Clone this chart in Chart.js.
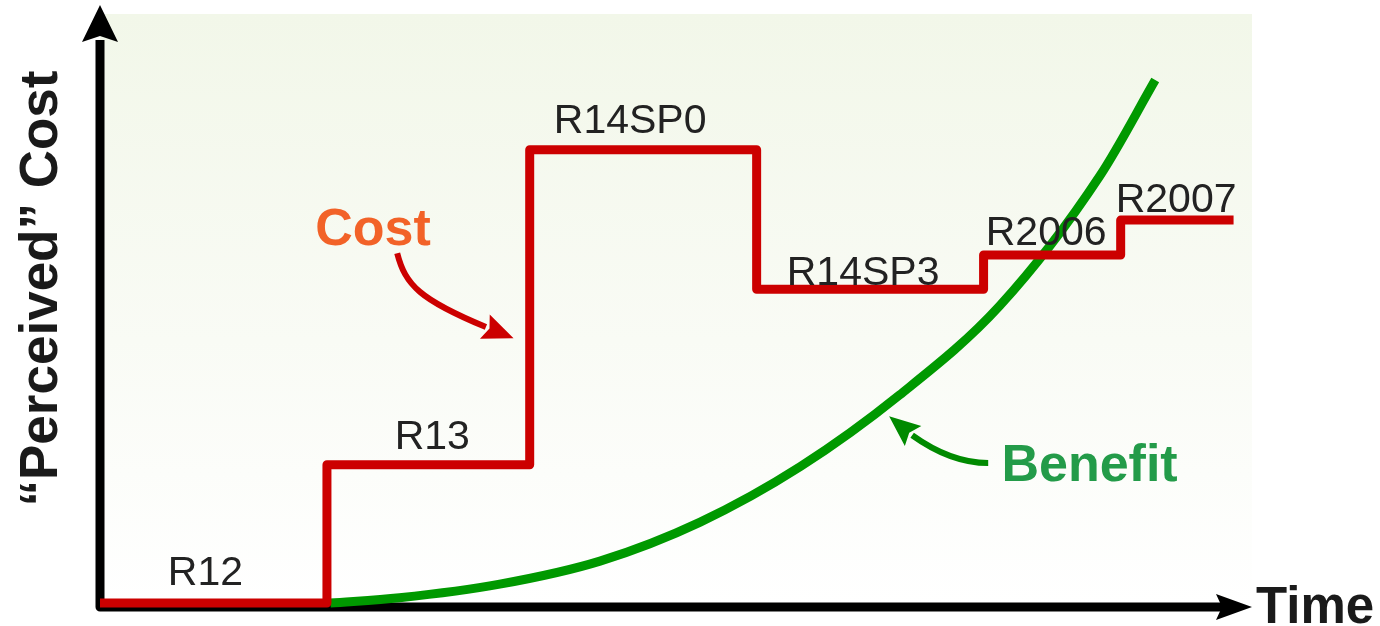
<!DOCTYPE html>
<html>
<head>
<meta charset="utf-8">
<script src="https://cdn.jsdelivr.net/npm/chart.js@4/dist/chart.umd.min.js"></script>
<style>
  html, body { margin: 0; padding: 0; background: #ffffff; overflow: hidden; }
  canvas { display: block; }
</style>
</head>
<body>
<canvas id="chart" width="1380" height="626"></canvas>
<script>
// Releases and the perceived cost of moving to each one (time runs 0..100)
const releases = ['R12', 'R13', 'R14SP0', 'R14SP3', 'R2006', 'R2007'];
const releaseStart = [0, 19.7, 37.3, 57.0, 76.7, 88.6];
const lastReleaseEnd = 98.4;
const perceivedCost = [0.5, 23.9, 77.2, 53.6, 59.4, 65.3];

// Benefit grows slowly at first, then sharply
const benefitTime = [20.0, 26.0, 34.7, 43.4, 52.1, 60.8, 69.4, 78.1, 86.8, 91.6];
const benefitValue = [0.5, 1.4, 3.7, 7.6, 14.2, 23.6, 35.7, 50.8, 72.8, 89.0];

// Text
const yTitle = '\u201CPerceived\u201D Cost';
const xTitle = 'Time';
const costTag = 'Cost';
const benefitTag = 'Benefit';

// Fine placement of the release labels (pixels: sideways shift, height above the step)
const labelShiftX = [-8, 4, -13, -7, -6, -1];
const labelRaise = [18, 16, 17, 4, 10, 8];

// Callout arrows, in data units: start, two bezier controls, end of shaft, tip
const costArrow = { p0: [25.8, 59.7], c1: [26.5, 54.3], c2: [27.8, 51.8], p1: [33.5, 47.2], tip: [35.9, 45.3] };
const benefitArrow = { p0: [77.1, 24.2], c1: [74.7, 24.2], c2: [72.5, 26.1], p1: [70.5, 28.9], tip: [68.5, 32.1] };
const costTagAt = [23.7, 61.1];
const benefitTagAt = [85.9, 21.2];

const costPoints = releaseStart.map((x, i) => ({ x: x, y: perceivedCost[i] }));
costPoints.push({ x: lastReleaseEnd, y: perceivedCost[perceivedCost.length - 1] });
const benefitPoints = benefitTime.map((x, i) => ({ x: x, y: benefitValue[i] }));

const SANS = '"Liberation Sans", Arial, sans-serif';

function px(chart, pt) {
  return [chart.scales.x.getPixelForValue(pt[0]), chart.scales.y.getPixelForValue(pt[1])];
}

function curvedArrow(ctx, chart, a, color, width, headLen, headHalf) {
  const p0 = px(chart, a.p0), c1 = px(chart, a.c1), c2 = px(chart, a.c2), p1 = px(chart, a.p1), tip = px(chart, a.tip);
  ctx.save();
  ctx.strokeStyle = color;
  ctx.fillStyle = color;
  ctx.lineWidth = width;
  ctx.lineCap = 'butt';
  ctx.lineJoin = 'round';
  ctx.beginPath();
  ctx.moveTo(p0[0], p0[1]);
  ctx.bezierCurveTo(c1[0], c1[1], c2[0], c2[1], p1[0], p1[1]);
  ctx.stroke();
  const dx = tip[0] - p1[0], dy = tip[1] - p1[1];
  const len = Math.hypot(dx, dy);
  const ux = dx / len, uy = dy / len;
  const nx = -uy, ny = ux;
  const bx = tip[0] - ux * headLen, by = tip[1] - uy * headLen;
  ctx.beginPath();
  ctx.moveTo(tip[0], tip[1]);
  ctx.lineTo(bx + nx * headHalf, by + ny * headHalf);
  ctx.lineTo(bx + ux * 5, by + uy * 5);
  ctx.lineTo(bx - nx * headHalf, by - ny * headHalf);
  ctx.closePath();
  ctx.fill();
  ctx.restore();
}

const decorations = {
  id: 'decorations',
  beforeDraw(chart) {
    const { ctx, chartArea: a } = chart;
    ctx.save();
    ctx.fillStyle = '#ffffff';
    ctx.fillRect(0, 0, chart.width, chart.height);
    const g = ctx.createLinearGradient(0, a.top, 0, a.bottom);
    g.addColorStop(0, '#f2f7e9');
    g.addColorStop(0.55, '#f9fbf5');
    g.addColorStop(1, '#ffffff');
    ctx.fillStyle = g;
    ctx.fillRect(a.left, a.top - 1, a.right - a.left, a.bottom - a.top + 1);
    ctx.restore();
  },
  beforeDatasetsDraw(chart) {
    const { ctx, chartArea: a } = chart;
    const ox = a.left, oy = a.bottom + 1;
    ctx.save();
    ctx.strokeStyle = '#000000';
    ctx.fillStyle = '#000000';
    ctx.lineWidth = 9;
    ctx.lineJoin = 'round';
    ctx.lineCap = 'butt';
    ctx.beginPath();
    ctx.moveTo(ox, a.top + 25);
    ctx.lineTo(ox, oy);
    ctx.lineTo(a.right - 28, oy);
    ctx.stroke();
    // vertical arrow head
    ctx.beginPath();
    ctx.moveTo(ox, a.top - 10);
    ctx.lineTo(ox + 18, a.top + 27);
    ctx.lineTo(ox, a.top + 21);
    ctx.lineTo(ox - 18, a.top + 27);
    ctx.closePath();
    ctx.fill();
    // horizontal arrow head
    ctx.beginPath();
    ctx.moveTo(a.right, oy);
    ctx.lineTo(a.right - 36, oy - 13);
    ctx.lineTo(a.right - 30, oy);
    ctx.lineTo(a.right - 36, oy + 13);
    ctx.closePath();
    ctx.fill();
    ctx.restore();
  },
  afterDatasetsDraw(chart) {
    const { ctx, chartArea: a } = chart;
    const xs = chart.scales.x, ys = chart.scales.y;
    ctx.save();
    // release labels above each step
    ctx.font = '41px ' + SANS;
    ctx.fillStyle = '#222222';
    ctx.textAlign = 'center';
    ctx.textBaseline = 'alphabetic';
    releases.forEach((name, i) => {
      const x0 = releaseStart[i];
      const x1 = i + 1 < releaseStart.length ? releaseStart[i + 1] : lastReleaseEnd;
      const cx = (xs.getPixelForValue(x0) + xs.getPixelForValue(x1)) / 2 + labelShiftX[i];
      const cy = ys.getPixelForValue(perceivedCost[i]) - labelRaise[i];
      ctx.fillText(name, cx, cy);
    });

    // callouts
    curvedArrow(ctx, chart, costArrow, '#cc0000', 6, 31, 13);
    curvedArrow(ctx, chart, benefitArrow, '#008a00', 6, 31, 13);

    ctx.font = 'bold 52px ' + SANS;
    ctx.fillStyle = '#f26228';
    let p = px(chart, costTagAt);
    ctx.fillText(costTag, p[0], p[1]);
    ctx.fillStyle = '#239b49';
    p = px(chart, benefitTagAt);
    ctx.fillText(benefitTag, p[0], p[1]);

    // axis titles
    ctx.fillStyle = '#1a1a1a';
    ctx.font = 'bold 51px ' + SANS;
    ctx.textAlign = 'left';
    ctx.fillText(xTitle, a.right + 4, chart.height - 3);

    ctx.font = 'bold 53px ' + SANS;
    ctx.textAlign = 'center';
    ctx.translate(a.left - 43, (a.top + a.bottom) / 2 - 22);
    ctx.rotate(-Math.PI / 2);
    ctx.fillText(yTitle, 0, 0);
    ctx.restore();
  }
};

new Chart(document.getElementById('chart'), {
  type: 'line',
  data: {
    datasets: [
      {
        label: 'Cost',
        data: costPoints,
        stepped: 'before',
        borderColor: '#cc0000',
        borderWidth: 9,
        borderJoinStyle: 'round',
        borderCapStyle: 'butt',
        pointRadius: 0,
        fill: false,
        clip: false,
        order: 0
      },
      {
        label: 'Benefit',
        data: benefitPoints,
        borderColor: '#009900',
        borderWidth: 9,
        cubicInterpolationMode: 'monotone',
        borderCapStyle: 'butt',
        pointRadius: 0,
        fill: false,
        clip: false,
        order: 1
      }
    ]
  },
  options: {
    responsive: false,
    animation: false,
    devicePixelRatio: 1,
    layout: { padding: { left: 100, right: 128, top: 15, bottom: 20 } },
    scales: {
      x: { type: 'linear', min: 0, max: 100, display: false },
      y: { type: 'linear', min: 0, max: 100, display: false }
    },
    plugins: {
      legend: { display: false },
      tooltip: { enabled: false }
    },
    events: []
  },
  plugins: [decorations]
});
</script>
</body>
</html>
